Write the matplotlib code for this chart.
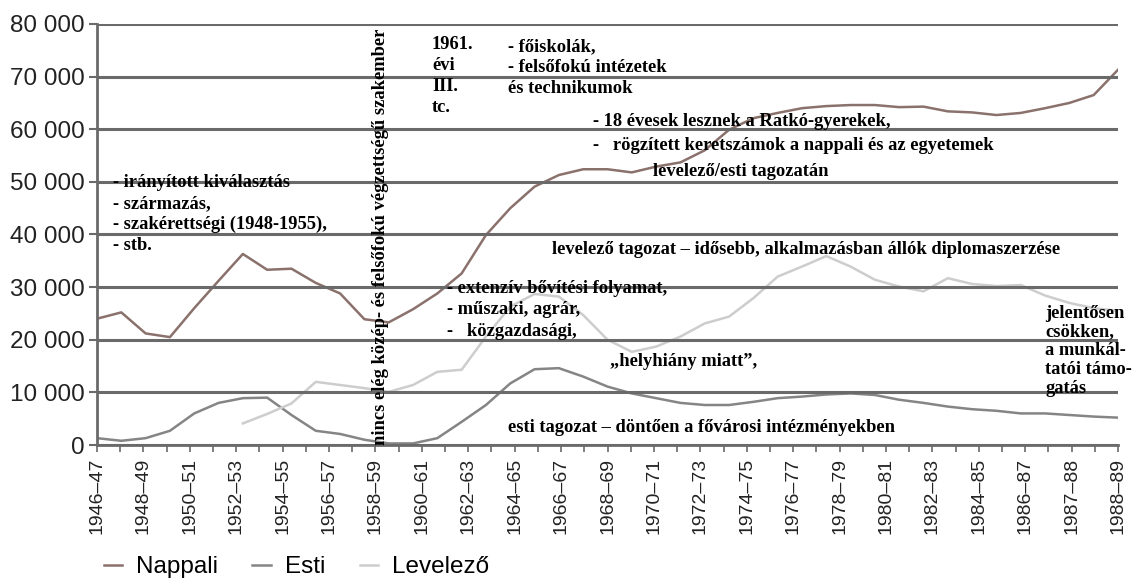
import matplotlib
matplotlib.use('Agg')
import matplotlib.pyplot as plt
import numpy as np

# school years 1946-47 ... 1988-89 (one point per year)
years = np.arange(1946, 1989)

nappali = [24000, 25200, 21200, 20500, 26000, 31200, 36300, 33300, 33500, 30800,
           28800, 23900, 23300, 25800, 28800, 32600, 39900, 45000, 49100, 51300,
           52400, 52400, 51800, 52900, 53700, 56000, 59900, 62100, 63100, 64000,
           64400, 64600, 64600, 64200, 64300, 63400, 63200, 62700, 63100, 64000,
           65000, 66500, 71300]
esti = [1300, 800, 1300, 2700, 6000, 8000, 8900, 9000, 5700, 2700,
        2100, 1000, 300, 300, 1300, 4400, 7600, 11700, 14400, 14600,
        13000, 11100, 9800, 8900, 8000, 7600, 7600, 8200, 8900, 9200,
        9600, 9800, 9500, 8600, 8000, 7300, 6800, 6500, 6000, 6000,
        5700, 5400, 5200]
levelezo = [np.nan] * 6 + [
    4100, 5900, 7900, 12000, 11400, 10800, 10100, 11400, 13900, 14300,
    20600, 26300, 28700, 28200, 24700, 20000, 17700, 18700, 20600, 23100,
    24400, 27900, 32000, 33900, 35900, 33900, 31400, 30100, 29200, 31700,
    30600, 30200, 30400, 28400, 27000, 26000, 25500]

tick_labels = ['1946–47', '1948–49', '1950–51', '1952–53', '1954–55', '1956–57',
               '1958–59', '1960–61', '1962–63', '1964–65', '1966–67', '1968–69',
               '1970–71', '1972–73', '1974–75', '1976–77', '1978–79', '1980–81',
               '1982–83', '1984–85', '1986–87', '1987–88', '1988–89']
y_ticks = np.arange(0, 80001, 10000)

fig = plt.figure(figsize=(11.34, 5.87), dpi=100)
ax = fig.add_axes([97/1134, 1 - 445/587, (1118 - 97)/1134, (445 - 24)/587])

ax.plot(years, nappali, color='#8a716c', lw=1.8, label='Nappali')
ax.plot(years, esti, color='#858585', lw=1.8, label='Esti')
ax.plot(years, levelezo, color='#cdcdcd', lw=1.8, label='Levelező')

ax.set_xlim(1946, 1988)
ax.set_ylim(0, 80000)
ax.set_yticks(y_ticks)
ax.set_yticklabels(['{:,}'.format(v).replace(',', ' ') for v in y_ticks],
                   family='Liberation Sans', fontsize=17.5, color='#222222')
ax.set_xticks(np.linspace(1946, 1988, len(tick_labels)))
ax.set_xticklabels(tick_labels, rotation=90, family='Liberation Sans', fontsize=14,
                   color='#222222')
ax.set_xticks(np.linspace(1946, 1988, 2 * len(tick_labels) - 1), minor=True)
ax.tick_params(axis='y', length=6, width=1.5, color='#6a6a6a', pad=3)
ax.tick_params(axis='x', which='both', length=5, width=1.2, color='#6a6a6a', pad=4)

ax.grid(axis='y', color='#6a6a6a', lw=2.2)
ax.set_axisbelow(False)
for s in ['top', 'right']:
    ax.spines[s].set_visible(False)
for s in ['left', 'bottom']:
    ax.spines[s].set_color('#6a6a6a')
    ax.spines[s].set_linewidth(2)

# annotations
tf = dict(family='Liberation Serif', weight='bold', fontsize=13.3, color='black')
ax.text(1946.66, 43900, '- irányított kiválasztás\n- származás,\n- szakérettségi (1948-1955),\n- stb.',
        va='center', ha='left', linespacing=1.3, **tf)
ax.text(1957.68, 0, 'nincs elég közép- és felsőfokú végzettségű szakember',
        rotation=90, va='bottom', ha='center', clip_on=False, **tf)
ax.text(1959.78, 70150, '1961.\névi\nIII.\ntc.', va='center', ha='left', linespacing=1.3, **tf)
ax.text(1962.91, 71670, '- főiskolák,\n- felsőfokú intézetek\nés technikumok',
        va='center', ha='left', linespacing=1.3, **tf)
ax.text(1966.41, 61400, '- 18 évesek lesznek a Ratkó-gyerekek,', va='center', ha='left', **tf)
ax.text(1966.41, 56840, '-   rögzített keretszámok a nappali és az egyetemek', va='center', ha='left', **tf)
ax.text(1968.87, 51900, 'levelező/esti tagozatán', va='center', ha='left', **tf)
ax.text(1964.72, 37070, 'levelező tagozat – idősebb, alkalmazásban állók diplomaszerzése',
        va='center', ha='left', **tf)
ax.text(1960.40, 25660, '- extenzív bővítési folyamat,\n- műszaki, agrár,\n-   közgazdasági,',
        va='center', ha='left', linespacing=1.35, **tf)
ax.text(1967.1, 15780, '„helyhiány miatt”,', va='center', ha='left', **tf)
ax.text(1962.91, 3420, 'esti tagozat – döntően a fővárosi intézményekben', va='center', ha='left', **tf)
ax.text(1985.0, 17870, 'jelentősen\ncsökken,\na munkál-\ntatói támo-\ngatás',
        va='center', ha='left', linespacing=1.15, **tf)

fig.legend(loc='lower left', bbox_to_anchor=(0.072, -0.022), ncol=3, frameon=False,
           handlelength=0.75, handletextpad=0.6, columnspacing=1.4,
           prop=dict(family='Liberation Sans', size=17.5))

fig.savefig('out.png', dpi=100)
